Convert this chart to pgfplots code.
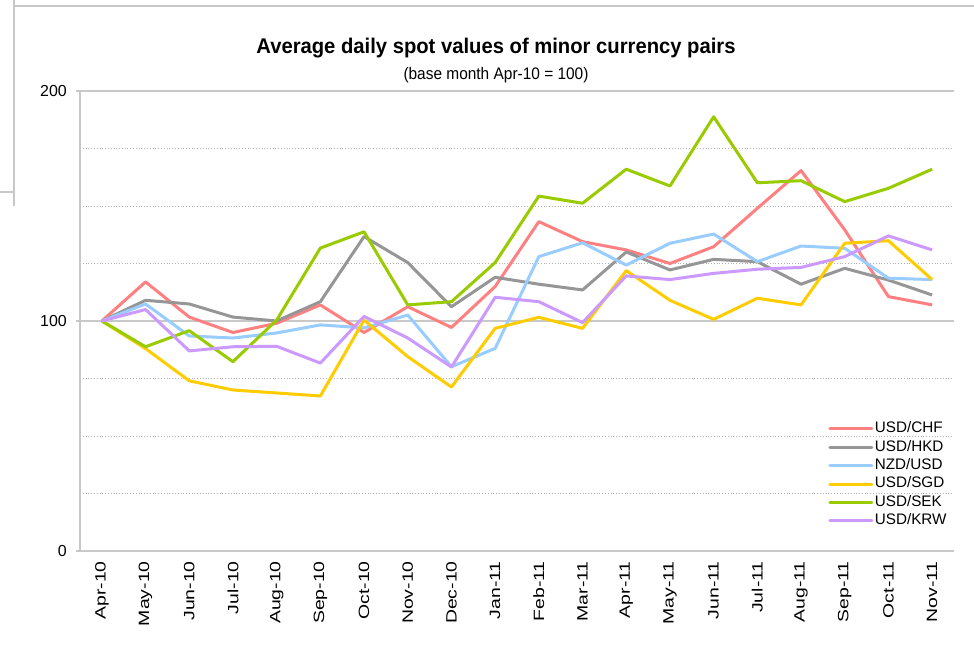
\documentclass[border=0pt]{standalone}
\usepackage{fontspec}
\setmainfont{Liberation Sans}
\usepackage{pgfplots}
\pgfplotsset{compat=1.18}
\definecolor{cchf}{HTML}{FF8080}
\definecolor{chkd}{HTML}{969696}
\definecolor{cnzd}{HTML}{99CCFF}
\definecolor{csgd}{HTML}{FFCC00}
\definecolor{csek}{HTML}{99CC00}
\definecolor{ckrw}{HTML}{CC99FF}
\definecolor{gridc}{HTML}{C8C8C8}
\begin{document}
\begin{tikzpicture}
\useasboundingbox (0,0) rectangle (974bp,649bp);
\fill[white] (0,0) rectangle (974bp,649bp);
% sheet frame lines
\draw[gridc, line width=1.5bp] (14bp,649bp) -- (14bp,443bp);
\draw[gridc, line width=1.5bp] (14bp,643bp) -- (974bp,643bp);
\draw[gridc, line width=1.2bp] (0bp,457bp) -- (14bp,457bp);
% titles
\node[anchor=base, font=\fontsize{20.3}{24}\selectfont\bfseries, yscale=1.05] at (496bp,595bp) {Average daily spot values of minor currency pairs};
\node[anchor=base, font=\fontsize{15.5}{18}\selectfont, yscale=1.08] at (496bp,569bp) {(base month Apr-10 = 100)};
\begin{axis}[
  at={(80bp,98bp)}, anchor=south west,
  width=874bp, height=460bp, scale only axis,
  xmin=-0.5, xmax=19.5, ymin=0, ymax=200,
  axis lines*=left,
  axis line style={gridc, line width=1.5bp},
  xtick={0,...,19},
  xticklabels={Apr-10,May-10,Jun-10,Jul-10,Aug-10,Sep-10,Oct-10,Nov-10,Dec-10,Jan-11,Feb-11,Mar-11,Apr-11,May-11,Jun-11,Jul-11,Aug-11,Sep-11,Oct-11,Nov-11},
  x tick label style={rotate=90, xscale=1.3, anchor=east, font=\fontsize{15}{18}\selectfont, inner sep=0pt},
  xticklabel shift={6bp},
  xtick style={draw=none},
  ytick={0,100,200},
  minor ytick={25,50,75,125,150,175},
  y tick label style={font=\fontsize{16}{18}\selectfont, inner sep=0pt, xshift=-9bp},
  ytick style={gridc, line width=1.5bp},
  tick align=outside, major tick length=4bp, minor tick length=0bp,
  ymajorgrids, yminorgrids,
  major grid style={gridc, line width=1.5bp},
  minor grid style={gray!60, line width=0.8bp, dotted},
  /pgf/number format/assume math mode=true,
  clip=false,
  legend style={at={(rel axis cs:0.856,0.286)}, anchor=north west, draw=none, fill=none,
    font=\fontsize{15.3}{18}\selectfont, inner sep=0pt, row sep=0bp,
    nodes={inner sep=1.5bp, text height=11.6bp, text depth=3.8bp}},
  legend cell align=left,
  legend image code/.code={\draw[#1, line cap=round] (0bp,0bp) -- (42bp,0bp);},
  every axis plot/.append style={line width=3bp, line join=round},
]
\addplot[cchf] coordinates {(0,100) (1,117) (2,101.7) (3,95) (4,99) (5,107) (6,95) (7,106.2) (8,97.2) (9,115) (10,143.2) (11,134.5) (12,130.9) (13,125) (14,132.3) (15,149) (16,165.4) (17,139.6) (18,110.6) (19,107)};
\addlegendentry{USD/CHF}
\addplot[chkd] coordinates {(0,100) (1,109) (2,107.4) (3,101.7) (4,100) (5,108.4) (6,136.7) (7,125.4) (8,106.2) (9,119) (10,116) (11,113.5) (12,130) (13,122.2) (14,126.8) (15,125.8) (16,116) (17,122.9) (18,117.8) (19,111.3)};
\addlegendentry{USD/HKD}
\addplot[cnzd] coordinates {(0,100) (1,107.4) (2,93.5) (3,92.6) (4,94.8) (5,98.3) (6,97) (7,102.6) (8,80.1) (9,88.1) (10,128) (11,134) (12,124.3) (13,133.8) (14,137.8) (15,125.8) (16,132.6) (17,131.6) (18,118.6) (19,118)};
\addlegendentry{NZD/USD}
\addplot[csgd] coordinates {(0,100) (1,88) (2,74) (3,70) (4,68.7) (5,67.4) (6,100.4) (7,84.5) (8,71.3) (9,96.8) (10,101.6) (11,96.8) (12,121.9) (13,109) (14,100.7) (15,109.9) (16,107) (17,133.8) (18,134.9) (19,118)};
\addlegendentry{USD/SGD}
\addplot[csek] coordinates {(0,100) (1,88.8) (2,95.8) (3,82.3) (4,100.4) (5,131.7) (6,138.8) (7,107) (8,108.4) (9,125.4) (10,154.3) (11,151.2) (12,166) (13,158.7) (14,188.8) (15,160.1) (16,161) (17,151.9) (18,157.7) (19,166)};
\addlegendentry{USD/SEK}
\addplot[ckrw] coordinates {(0,100) (1,105) (2,87) (3,88.8) (4,89) (5,81.7) (6,102) (7,92.6) (8,80) (9,110.3) (10,108.4) (11,99.3) (12,119.6) (13,118) (14,120.7) (15,122.5) (16,123.3) (17,128) (18,137) (19,130.9)};
\addlegendentry{USD/KRW}
\end{axis}
\end{tikzpicture}
\end{document}
